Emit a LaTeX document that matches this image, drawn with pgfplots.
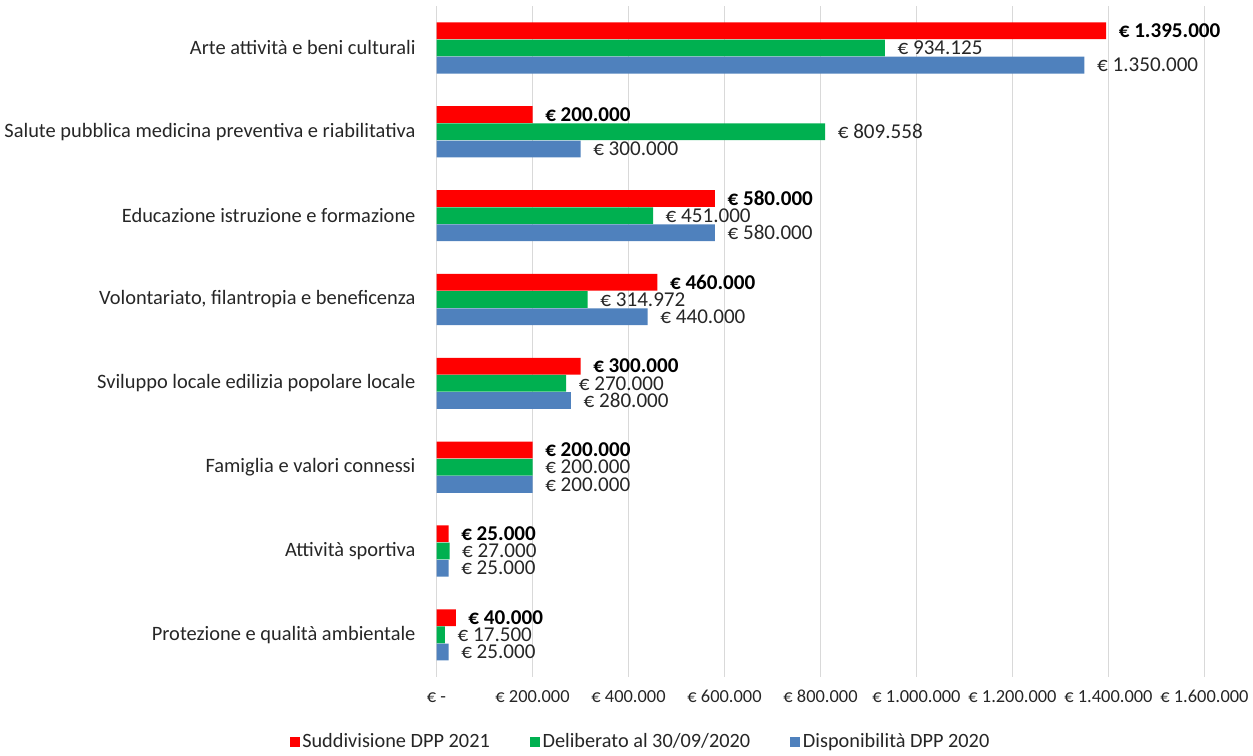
\documentclass[border=0pt]{standalone}
\usepackage{fontspec}
\setmainfont{Carlito}
\usepackage{pgfplots}
\usepackage{pgfplotstable}
\pgfplotsset{compat=1.18}
\definecolor{cred}{HTML}{FF0000}
\definecolor{cgreen}{HTML}{00B050}
\definecolor{cblue}{HTML}{4F81BD}
\definecolor{cgrid}{HTML}{D9D9D9}
\definecolor{ctext}{HTML}{262626}

\pgfplotstableread{
y x lab
0 1395000 1.395.000
1 200000 200.000
2 580000 580.000
3 460000 460.000
4 300000 300.000
5 200000 200.000
6 25000 25.000
7 40000 40.000
}\tred
\pgfplotstableread{
y x lab
0 934125 934.125
1 809558 809.558
2 451000 451.000
3 314972 314.972
4 270000 270.000
5 200000 200.000
6 27000 27.000
7 17500 17.500
}\tgreen
\pgfplotstableread{
y x lab
0 1350000 1.350.000
1 300000 300.000
2 580000 580.000
3 440000 440.000
4 280000 280.000
5 200000 200.000
6 25000 25.000
7 25000 25.000
}\tblue

\begin{document}
\begin{tikzpicture}
\begin{axis}[
  xbar,
  scale only axis,
  width=575.25pt, height=502.5pt,
  xmin=0, xmax=1600000,
  ymin=-0.5, ymax=7.5,
  y dir=reverse,
  scaled x ticks=false,
  xtick={0,200000,400000,600000,800000,1000000,1200000,1400000,1600000},
  xticklabels={€ -, € 200.000, € 400.000, € 600.000, € 800.000, € 1.000.000, € 1.200.000, € 1.400.000, € 1.600.000},
  ytick={0,1,2,3,4,5,6,7},
  yticklabels={Arte attività e beni culturali, Salute pubblica medicina preventiva e riabilitativa, Educazione istruzione e formazione, {Volontariato, filantropia e beneficenza}, Sviluppo locale edilizia popolare locale, Famiglia e valori connessi, Attività sportiva, Protezione e qualità ambientale},
  xticklabel style={font=\fontsize{13.8}{15}\selectfont, text height=9.5pt, text depth=2pt, yshift=-6.5pt, text=ctext},
  yticklabel style={font=\fontsize{15.3}{17}\selectfont, xshift=-8pt, text=ctext},
  xmajorgrids,
  grid style={draw=cgrid, line width=0.75pt},
  axis line style={draw=none},
  tick style={draw=none},
  bar width=0.2,
  point meta=explicit symbolic,
  nodes near coords={€ \pgfplotspointmeta},
  nodes near coords style={anchor=west, xshift=6pt, inner ysep=0pt, font=\fontsize{15.8}{17}\selectfont, text=ctext},
  legend style={draw=none, at={(0.266,-0.097)}, anchor=center, legend columns=3,
    font=\fontsize{15.2}{17}\selectfont, text=ctext,
    /tikz/every even column/.append style={column sep=28pt}},
  legend image code/.code={\fill[#1] (0pt,-3.75pt) rectangle (7.5pt,3.75pt);},
]
\addplot[fill=cred, draw=none, bar shift=-0.205, nodes near coords style={font=\fontsize{15.8}{17}\selectfont\bfseries, text=black}] table[x=x, y=y, meta=lab] {\tred};
\addplot[fill=cgreen, draw=none, bar shift=0] table[x=x, y=y, meta=lab] {\tgreen};
\addplot[fill=cblue, draw=none, bar shift=0.205] table[x=x, y=y, meta=lab] {\tblue};
\legend{Suddivisione DPP 2021, Deliberato al 30/09/2020, Disponibilità DPP 2020}
\end{axis}
\path (current axis.north) ++(0,4.5pt);
\end{tikzpicture}
\end{document}
